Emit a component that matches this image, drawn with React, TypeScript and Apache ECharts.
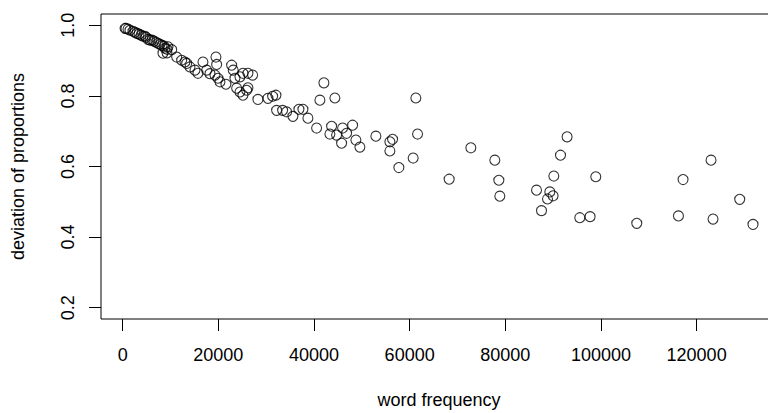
import React, { useEffect, useRef } from "react";
import * as echarts from "echarts";

// word frequency (x) and deviation of proportions (y)
const wordFrequency: number[] = [
  500, 690, 1108, 1526, 2153, 2571, 2989, 3407, 3825, 4243, 4661, 4870, 5288, 5706, 6124, 6542,
  6960, 7378, 7796, 8214, 8423, 8632, 8841, 9259, 9259, 9468, 10241, 11286, 12331, 13021, 13376,
  14066, 15111, 15738, 16783, 17556, 18246, 19500, 19646, 19291, 19918, 20336, 21590, 22781, 23115,
  23470, 24515, 25143, 26188, 27170, 23826, 24515, 25143, 25916, 26188, 28278, 30368, 31350, 32040,
  32186, 33440, 34276, 35593, 36847, 37682, 38727, 40545, 41235, 42071, 43681, 43325, 44370, 44726,
  45771, 45980, 46816, 48070, 48760, 49596, 52940, 55865, 56430, 55865, 57746, 60735, 61299, 61654,
  68259, 72795, 77810, 78650, 78855, 86526, 87571, 88825, 89306, 89996, 90142, 91542, 92921, 95575,
  97728, 98920, 107489, 116204, 117165, 123017, 123435, 129015, 131794,
];
const deviation: number[] = [
  0.991, 0.991, 0.989, 0.986, 0.983, 0.98, 0.977, 0.975, 0.972, 0.969, 0.969, 0.966, 0.96, 0.958,
  0.958, 0.955, 0.952, 0.949, 0.946, 0.943, 0.921, 0.941, 0.935, 0.932, 0.922, 0.939, 0.931, 0.91,
  0.901, 0.896, 0.892, 0.882, 0.873, 0.864, 0.896, 0.873, 0.863, 0.91, 0.889, 0.859, 0.85, 0.84,
  0.833, 0.887, 0.873, 0.85, 0.854, 0.864, 0.864, 0.859, 0.822, 0.811, 0.802, 0.816, 0.823, 0.79,
  0.793, 0.799, 0.802, 0.759, 0.759, 0.755, 0.742, 0.762, 0.762, 0.737, 0.709, 0.788, 0.837, 0.714,
  0.692, 0.794, 0.689, 0.666, 0.709, 0.694, 0.717, 0.675, 0.655, 0.686, 0.67, 0.677, 0.644, 0.597,
  0.624, 0.794, 0.692, 0.564, 0.653, 0.618, 0.561, 0.516, 0.533, 0.475, 0.508, 0.528, 0.517, 0.573,
  0.632, 0.684, 0.455, 0.458, 0.571, 0.439, 0.46, 0.563, 0.618, 0.451, 0.507, 0.436,
];
const xTicks: number[] = [0, 20000, 40000, 60000, 80000, 100000, 120000];
const yTicks: number[] = [0.2, 0.4, 0.6, 0.8, 1.0];

const FONT = "'Liberation Sans', Arial, Helvetica, sans-serif";

export default function App() {
  const ref = useRef<HTMLDivElement>(null);
  useEffect(() => {
    if (!ref.current) return;
    const chart = echarts.init(ref.current, null, { renderer: "svg" });
    const points = wordFrequency.map((x, i) => [x, deviation[i]]);
    chart.setOption({
      animation: false,
      backgroundColor: "#ffffff",
      textStyle: { fontFamily: FONT },
      grid: {
        show: true,
        left: 101,
        top: 14,
        width: 676,
        height: 305,
        containLabel: false,
        outerBoundsMode: "none",
        borderColor: "#000",
        borderWidth: 1,
        backgroundColor: "transparent",
      },
      xAxis: {
        type: "value",
        min: -4535,
        max: 136810,
        name: "word frequency",
        nameLocation: "middle",
        nameGap: 72,
        nameTextStyle: { color: "#000", fontSize: 18, fontFamily: FONT, verticalAlign: "top" },
        axisLine: { show: false, onZero: false },
        splitLine: { show: false },
        axisTick: {
          show: true,
          customValues: xTicks,
          length: 12,
          lineStyle: { color: "#000", width: 1 },
        },
        axisLabel: {
          customValues: xTicks,
          margin: 27,
          color: "#000",
          fontSize: 18,
          fontFamily: FONT,
          formatter: (v: number) => String(v),
        },
      },
      yAxis: {
        type: "value",
        min: 0.168,
        max: 1.032,
        name: "deviation of proportions",
        nameLocation: "middle",
        nameRotate: 90,
        nameGap: 74,
        nameTextStyle: { color: "#000", fontSize: 18, fontFamily: FONT },
        axisLine: { show: false, onZero: false },
        splitLine: { show: false },
        axisTick: {
          show: true,
          customValues: yTicks,
          length: 12,
          lineStyle: { color: "#000", width: 1 },
        },
        axisLabel: {
          customValues: yTicks,
          rotate: 90,
          margin: 24,
          color: "#000",
          fontSize: 18,
          fontFamily: FONT,
          formatter: (v: number) => v.toFixed(1),
        },
      },
      series: [
        {
          type: "scatter",
          data: points,
          symbol: "circle",
          symbolSize: 10,
          itemStyle: { color: "transparent", borderColor: "#000", borderWidth: 1.1 },
          emphasis: { disabled: true },
        },
      ],
    });
    return () => chart.dispose();
  }, []);
  return (
    <div
      ref={ref}
      style={{ position: "fixed", left: 0, top: 0, width: 768, height: 413, background: "#fff" }}
    />
  );
}
